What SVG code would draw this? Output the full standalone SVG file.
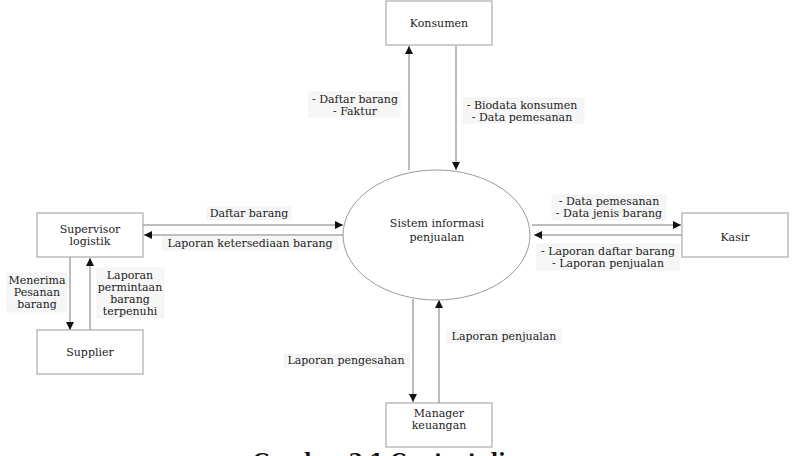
<svg xmlns="http://www.w3.org/2000/svg" width="792" height="456" viewBox="0 0 792 456">
<style>
.box{fill:#ffffff;stroke:#9a9a9a;stroke-width:1}
.t{font-family:"DejaVu Serif",serif;font-size:11px;fill:#222;text-anchor:middle}
.c{stroke:#7a7a7a;stroke-width:1;fill:none;marker-end:url(#ah)}
.lb{fill:#f6f6f6;stroke:#ececec;stroke-width:0.5}
</style>
<defs>
<marker id="ah" viewBox="0 0 10 10" refX="10" refY="5" markerWidth="8" markerHeight="8" markerUnits="userSpaceOnUse" orient="auto">
<path d="M0,0 L10,5 L0,10 z" fill="#111"/>
</marker>
</defs>
<rect width="792" height="456" fill="#ffffff"/>
<g id="connectors">
<line class="c" x1="409" y1="170" x2="409" y2="46"/>
<line class="c" x1="456" y1="46" x2="456" y2="170"/>
<line class="c" x1="143" y1="225" x2="343" y2="225"/>
<line class="c" x1="344" y1="235" x2="144" y2="235"/>
<line class="c" x1="70" y1="257" x2="70" y2="330"/>
<line class="c" x1="90" y1="330" x2="90" y2="258"/>
<line class="c" x1="532" y1="225" x2="681" y2="225"/>
<line class="c" x1="682" y1="235" x2="534" y2="235"/>
<line class="c" x1="413" y1="299" x2="413" y2="402"/>
<line class="c" x1="439" y1="403" x2="439" y2="300"/>
<g id="labels">
<rect class="lb" x="309" y="92" width="91" height="25"/>
<text class="t" x="355" y="103">- Daftar barang</text>
<text class="t" x="355" y="115">- Faktur</text>
<rect class="lb" x="463" y="98" width="121" height="25"/>
<text class="t" x="522" y="109">- Biodata konsumen</text>
<text class="t" x="522" y="121">- Data pemesanan</text>
<rect class="lb" x="207" y="207" width="84" height="13"/>
<text class="t" x="249" y="217">Daftar barang</text>
<rect class="lb" x="162" y="237" width="176" height="13"/>
<text class="t" x="250" y="247">Laporan ketersediaan barang</text>
<rect class="lb" x="7" y="273" width="60" height="39"/>
<text class="t" x="37" y="284">Menerima</text>
<text class="t" x="37" y="296">Pesanan</text>
<text class="t" x="37" y="308">barang</text>
<rect class="lb" x="97" y="268" width="67" height="50"/>
<text class="t" x="130" y="279">Laporan</text>
<text class="t" x="130" y="291">permintaan</text>
<text class="t" x="130" y="303">barang</text>
<text class="t" x="130" y="315">terpenuhi</text>
<rect class="lb" x="552" y="195" width="114" height="25"/>
<text class="t" x="609" y="205">- Data pemesanan</text>
<text class="t" x="609" y="217">- Data jenis barang</text>
<rect class="lb" x="537" y="244" width="142" height="26"/>
<text class="t" x="608" y="255">- Laporan daftar barang</text>
<text class="t" x="608" y="267">- Laporan penjualan</text>
<rect class="lb" x="284" y="354" width="125" height="13"/>
<text class="t" x="346" y="364">Laporan pengesahan</text>
<rect class="lb" x="447" y="330" width="114" height="13"/>
<text class="t" x="504" y="340">Laporan penjualan</text>
</g>
</g>
<g id="konsumen">
<rect class="box" x="386" y="1" width="106" height="44"/>
<text class="t" x="439" y="27">Konsumen</text>
</g>
<g id="sistem">
<ellipse cx="436.5" cy="235" rx="93.5" ry="65" fill="#ffffff" stroke="#9a9a9a" stroke-width="1"/>
<text class="t" x="437" y="227">Sistem informasi</text>
<text class="t" x="437" y="241">penjualan</text>
</g>
<g id="supervisor">
<rect class="box" x="37" y="213" width="106" height="44"/>
<text class="t" x="90" y="233">Supervisor</text>
<text class="t" x="90" y="245">logistik</text>
</g>
<g id="supplier">
<rect class="box" x="37" y="330" width="106" height="44"/>
<text class="t" x="90" y="356">Supplier</text>
</g>
<g id="kasir">
<rect class="box" x="682" y="213" width="106" height="44"/>
<text class="t" x="735" y="241">Kasir</text>
</g>
<g id="manager">
<rect class="box" x="386" y="403" width="106" height="44"/>
<text class="t" x="439" y="417">Manager</text>
<text class="t" x="439" y="429">keuangan</text>
</g>
<text x="253" y="468" font-family="'DejaVu Serif',serif" font-size="20" font-weight="bold" fill="#111">Gambar 3.1 Context diagram</text>
</svg>
